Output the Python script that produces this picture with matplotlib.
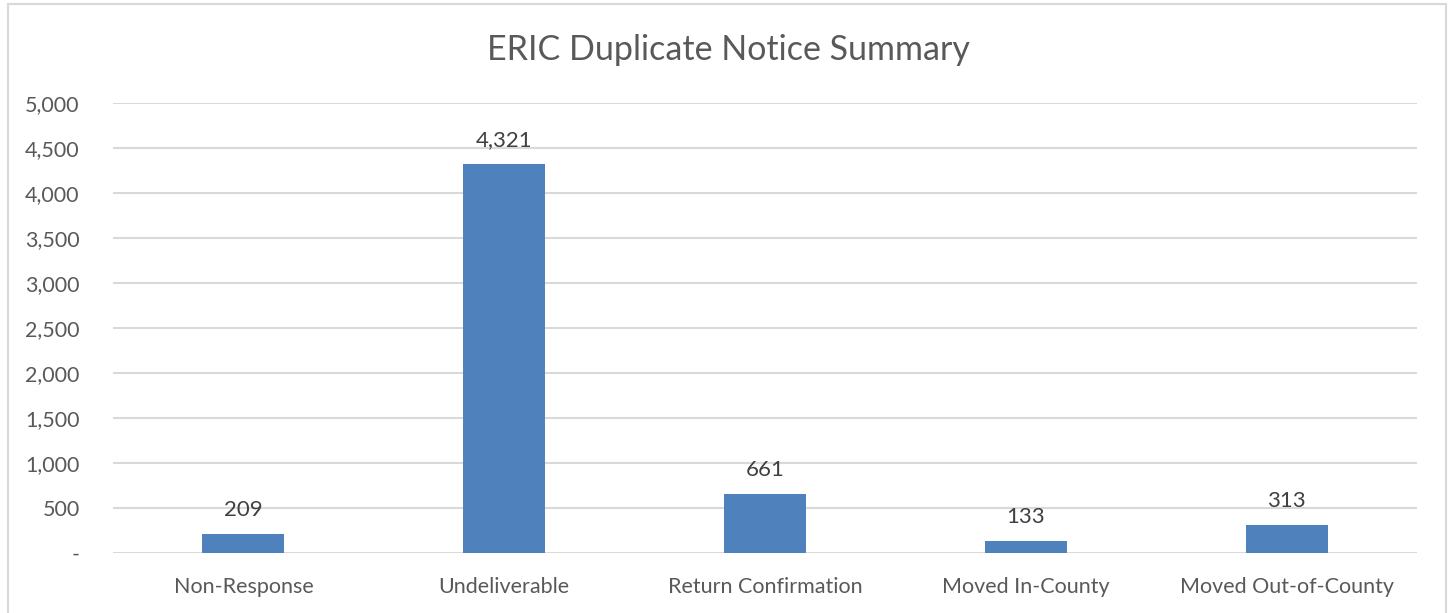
import matplotlib
matplotlib.use("Agg")
from matplotlib import pyplot as plt
from matplotlib.ticker import FuncFormatter
from matplotlib.patches import Rectangle

categories = ["Non-Response", "Undeliverable", "Return Confirmation",
              "Moved In-County", "Moved Out-of-County"]
counts = [209, 4321, 661, 133, 313]
yticks = [0, 500, 1000, 1500, 2000, 2500, 3000, 3500, 4000, 4500, 5000]

plt.rcParams['font.family'] = ['Lato', 'DejaVu Sans']

fig = plt.figure(figsize=(14.52, 6.13), dpi=100)

# light frame around the chart
fig.patches.append(Rectangle((8/1452, -0.05), (1446-8)/1452, 1.05 - 4/613,
                             transform=fig.transFigure, fill=False,
                             edgecolor='#D9D9D9', linewidth=1.5))

ax = fig.add_axes([113/1452, 60/613, 1304/1452, 450/613])

x = range(len(categories))
bars = ax.bar(x, counts, width=0.315, color='#4F81BD', zorder=3)

for b, v in zip(bars, counts):
    ax.annotate(f"{v:,}", (b.get_x() + b.get_width()/2, v),
                xytext=(0, 10), textcoords='offset points',
                ha='center', va='bottom', fontsize=16, color='#404040')

ax.set_xlim(-0.5, len(categories) - 0.5)
ax.set_ylim(0, 5000)
ax.set_yticks(yticks)
ax.yaxis.set_major_formatter(FuncFormatter(lambda v, p: "-" if v == 0 else f"{int(v):,}"))
ax.set_xticks(list(x))
ax.set_xticklabels(categories)

ax.grid(axis='y', color='#D9D9D9', linewidth=1.5, zorder=0)
for s in ax.spines.values():
    s.set_visible(False)
ax.tick_params(axis='both', length=0, labelsize=15.5, labelcolor='#595959')
ax.tick_params(axis='y', pad=24)
ax.tick_params(axis='x', pad=17)

fig.text(728/1452, 1 - 50/613, "ERIC Duplicate Notice Summary",
         ha='center', va='center', fontsize=24.5, color='#595959')

fig.savefig("out.png", dpi=100)
